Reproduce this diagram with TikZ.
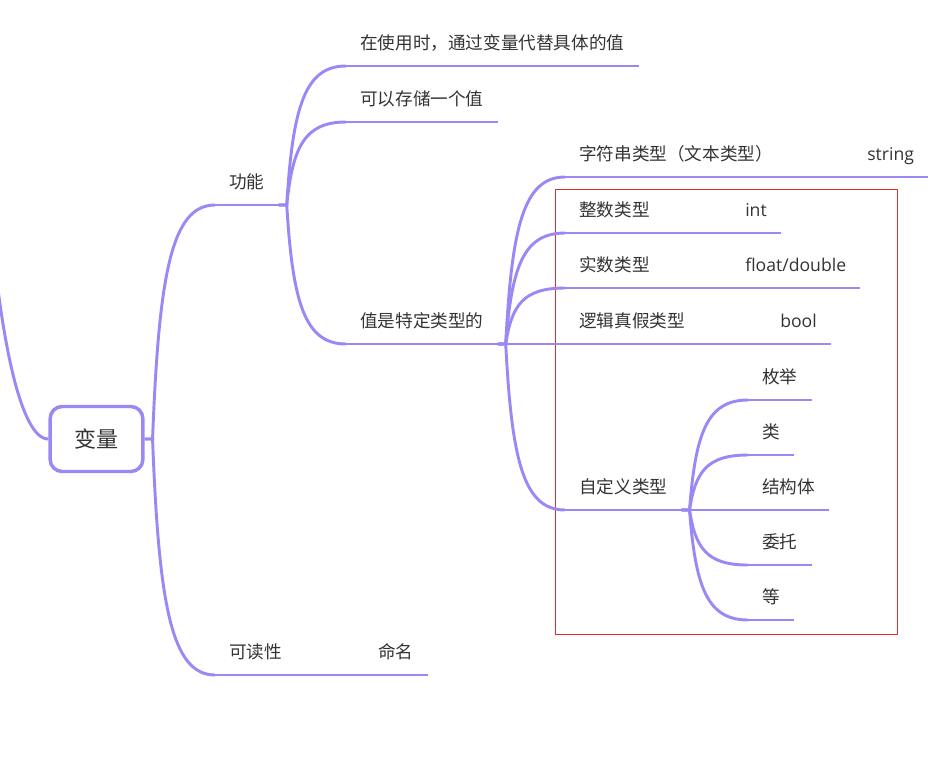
\documentclass[tikz,border=0pt]{standalone}
\usepackage{fontspec}
\setmainfont{Noto Sans CJK SC}
\newfontfamily\latinfont{Open Sans}
\usepackage{tikz}
\usetikzlibrary{calc}
\definecolor{linepurple}{RGB}{156,136,245}
\definecolor{boxred}{RGB}{230,45,45}
\definecolor{textgray}{RGB}{51,51,51}

\begin{document}
\begin{tikzpicture}[x=0.75pt, y=-0.75pt,
    every node/.style={font=\fontsize{13.2pt}{16pt}\selectfont, text=textgray},
    topic/.style={anchor=south west, xshift=-10.5pt, inner xsep=10.5pt,
                  inner ysep=12.3pt, text depth=0pt},
    latin/.style={font=\fontsize{13.2pt}{16pt}\selectfont\latinfont},
    rootbox/.style={draw=linepurple, line width=2.6pt, rounded corners=9pt, fill=white,
                    minimum width=69.5pt, minimum height=48.75pt,
                    font=\fontsize{16.5pt}{20pt}\selectfont},
    mapline/.style={draw=linepurple, line width=2.2pt},
    branch/.style={mapline, to path={let \p1=([xshift=6pt]\tikztostart), \p2=(\tikztotarget) in
        -- (\p1) .. controls ({\x1+0.1*(\x2-\x1)},{\y1+0.7*(\y2-\y1)})
                        and ({\x1+0.3*(\x2-\x1)},\y2) .. (\p2)}}]
    \useasboundingbox (0,0) rectangle (942,768);
    \clip (0,0) rectangle (942,768);

    % Frame round the value types
    \draw[boxred, line width=0.6pt] (555,189) rectangle (897,634);

    % Root and its parent off the page
    \coordinate (up) at (-15,150);
    \node[rootbox] (root) at (96.5,439) {变量};
    \draw[mapline] (up) .. controls (0,380) and (28,440) .. (root.west);

    % First level
    \node[topic] (fn) at (229,205) {功能};
    \node[topic] (read) at (229,675) {可读性};
    \node[topic] (name) at (378,675) {命名};
    \draw[branch] (root.east) to (fn.south west);
    \draw[branch] (root.east) to (read.south west);
    \draw[branch] (read.south east) to (name.south west);

    % 功能
    \node[topic] (use) at (360,66) {在使用时，通过变量代替具体的值};
    \node[topic] (store) at (360,122) {可以存储一个值};
    \node[topic] (typed) at (360,344) {值是特定类型的};
    \foreach \nd in {use,store,typed}
        \draw[branch] (fn.south east) to (\nd.south west);

    % Types with their keywords
    \foreach \nd/\txt/\kv/\kw/\kx/\ky in {str/字符串类型（文本类型）/strv/string/867/177,
                                         int/整数类型/intv/int/745/233,
                                         real/实数类型/realv/{float/double}/745/288,
                                         bool/逻辑真假类型/boolv/bool/780/344} {
        \node[topic] (\nd) at (579,\ky) {\txt};
        \node[topic, latin] (\kv) at (\kx,\ky) {\kw};
        \draw[branch] (typed.south east) to (\nd.south west);
        \draw[branch] (\nd.south east) to (\kv.south west);
    }

    % 自定义类型
    \node[topic] (custom) at (579,510) {自定义类型};
    \draw[branch] (typed.south east) to (custom.south west);
    \foreach \nd/\txt [count=\i] in {enum/枚举, cls/类, struct/结构体, deleg/委托, etc/等} {
        \node[topic] (\nd) at (762,{345+55*\i}) {\txt};
        \draw[branch] (custom.south east) to (\nd.south west);
    }

    % Underlines
    \foreach \nd in {fn,read,name,use,store,typed,str,strv,int,intv,real,realv,
                     bool,boolv,custom,enum,cls,struct,deleg,etc}
        \draw[mapline] (\nd.south west) -- (\nd.south east);

\end{tikzpicture}
\end{document}
